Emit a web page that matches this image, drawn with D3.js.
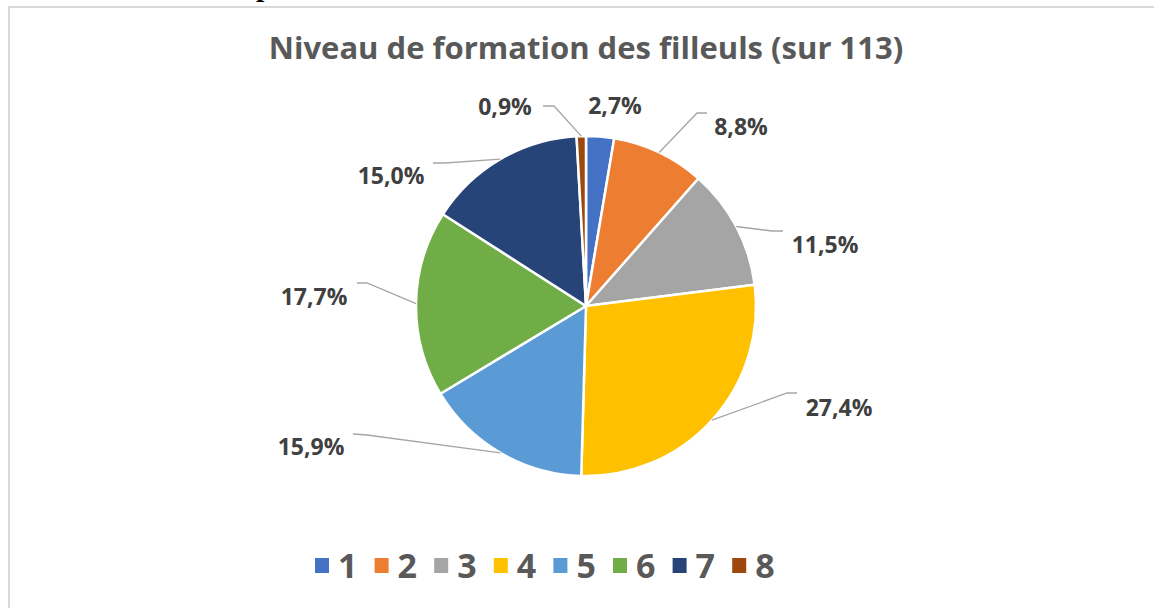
<!DOCTYPE html>
<html>
<head>
<meta charset="utf-8">
<script src="https://cdn.jsdelivr.net/npm/d3@7"></script>
<style>
  body { margin: 0; background: #fff; }
  svg { display: block; }
  text { font-family: "Open Sans", Lato, sans-serif; font-weight: bold; }
</style>
</head>
<body>
<div id="chart"></div>
<script>
// data
var categories = ["1", "2", "3", "4", "5", "6", "7", "8"];
var counts = [3, 10, 13, 31, 18, 20, 17, 1];   // sur 113
var colors = ["#4472C4", "#ED7D31", "#A5A5A5", "#FFC000", "#5B9BD5", "#70AD47", "#264478", "#9E480E"];
var title = "Niveau de formation des filleuls (sur 113)";

// label placement (offsets from pie centre, like dragged labels in Excel)
var labelAt = [[29, -200], [155, -179], [239, -61], [253, 102], [-275, 141], [-272, -9], [-195, -130], [-81, -199]];
var elbowAt = [null, [111, -193], [186, -75], [201, 87], [-219, 129], [-219, -23], [-141, -143], [-32, -200]];
var elbowEnd = [null, [121, -193], [197, -75], [211, 87], [-233, 128], [-229, -23], [-153, -143], [-43, -200]];

var width = 1154, height = 608;
var cx = 586, cy = 306, radius = 170;

var svg = d3.select("#chart").append("svg")
    .attr("width", width)
    .attr("height", height);

// cut-off glyph of the surrounding document
svg.append("text")
    .attr("x", 256).attr("y", -4)
    .style("font-family", "'Liberation Serif', serif")
    .style("font-size", "30px")
    .attr("fill", "#000")
    .text("p");

// chart frame
svg.append("rect")
    .attr("x", 9).attr("y", 7)
    .attr("width", 1300).attr("height", 800)
    .attr("fill", "none")
    .attr("stroke", "#d9d9d9")
    .attr("stroke-width", 2);

var titleText = svg.append("text")
    .attr("x", cx).attr("y", 59)
    .attr("text-anchor", "middle")
    .attr("fill", "#595959")
    .style("font-size", "28px")
    .text(title);
// fit the title to the width it has in the original
var tw = titleText.node().getComputedTextLength();
titleText.style("font-size", (28 * 635 / tw) + "px");

var total = d3.sum(counts);
var data = categories.map(function(c, i) { return { cat: c, value: counts[i], i: i }; });

var pie = d3.pie().sort(null).value(function(d) { return d.value; });
var arcs = pie(data);
var arc = d3.arc().innerRadius(0).outerRadius(radius);

var g = svg.append("g").attr("transform", "translate(" + cx + "," + cy + ")");

g.selectAll("path.slice")
    .data(arcs)
    .enter()
    .append("path")
    .attr("class", "slice")
    .attr("d", arc)
    .attr("fill", function(d) { return colors[d.data.i]; })
    .attr("stroke", "#fff")
    .attr("stroke-width", 2.5)
    .attr("stroke-linejoin", "round");

// leader lines
g.selectAll("polyline.leader")
    .data(arcs.filter(function(d) { return elbowAt[d.data.i]; }))
    .enter()
    .append("polyline")
    .attr("class", "leader")
    .attr("points", function(d) {
        var a = (d.startAngle + d.endAngle) / 2;
        var p0 = [Math.sin(a) * radius, -Math.cos(a) * radius];
        return [p0, elbowAt[d.data.i], elbowEnd[d.data.i]].map(function(p) { return p.join(","); }).join(" ");
    })
    .attr("fill", "none")
    .attr("stroke", "#a6a6a6")
    .attr("stroke-width", 1.3);

var fmt = function(v) { return d3.format(".1%")(v).replace(".", ","); };

g.selectAll("text.lbl")
    .data(arcs)
    .enter()
    .append("text")
    .attr("class", "lbl")
    .attr("x", function(d) { return labelAt[d.data.i][0]; })
    .attr("y", function(d) { return labelAt[d.data.i][1]; })
    .attr("dy", "0.36em")
    .attr("text-anchor", "middle")
    .attr("fill", "#404040")
    .style("font-size", "23px")
    .text(function(d) { return fmt(d.data.value / total); });

// legend
var lx = d3.scaleBand().domain(categories).range([315, 315 + 8 * 59.6]);

var leg = svg.append("g").selectAll("g")
    .data(categories)
    .enter()
    .append("g")
    .attr("transform", function(d) { return "translate(" + lx(d) + ",558)"; });

leg.append("rect")
    .attr("width", 14).attr("height", 15)
    .attr("fill", function(d, i) { return colors[i]; });

leg.append("text")
    .attr("x", 23).attr("y", 20)
    .attr("fill", "#595959")
    .style("font-size", "34px")
    .text(function(d) { return d; });
</script>
</body>
</html>
